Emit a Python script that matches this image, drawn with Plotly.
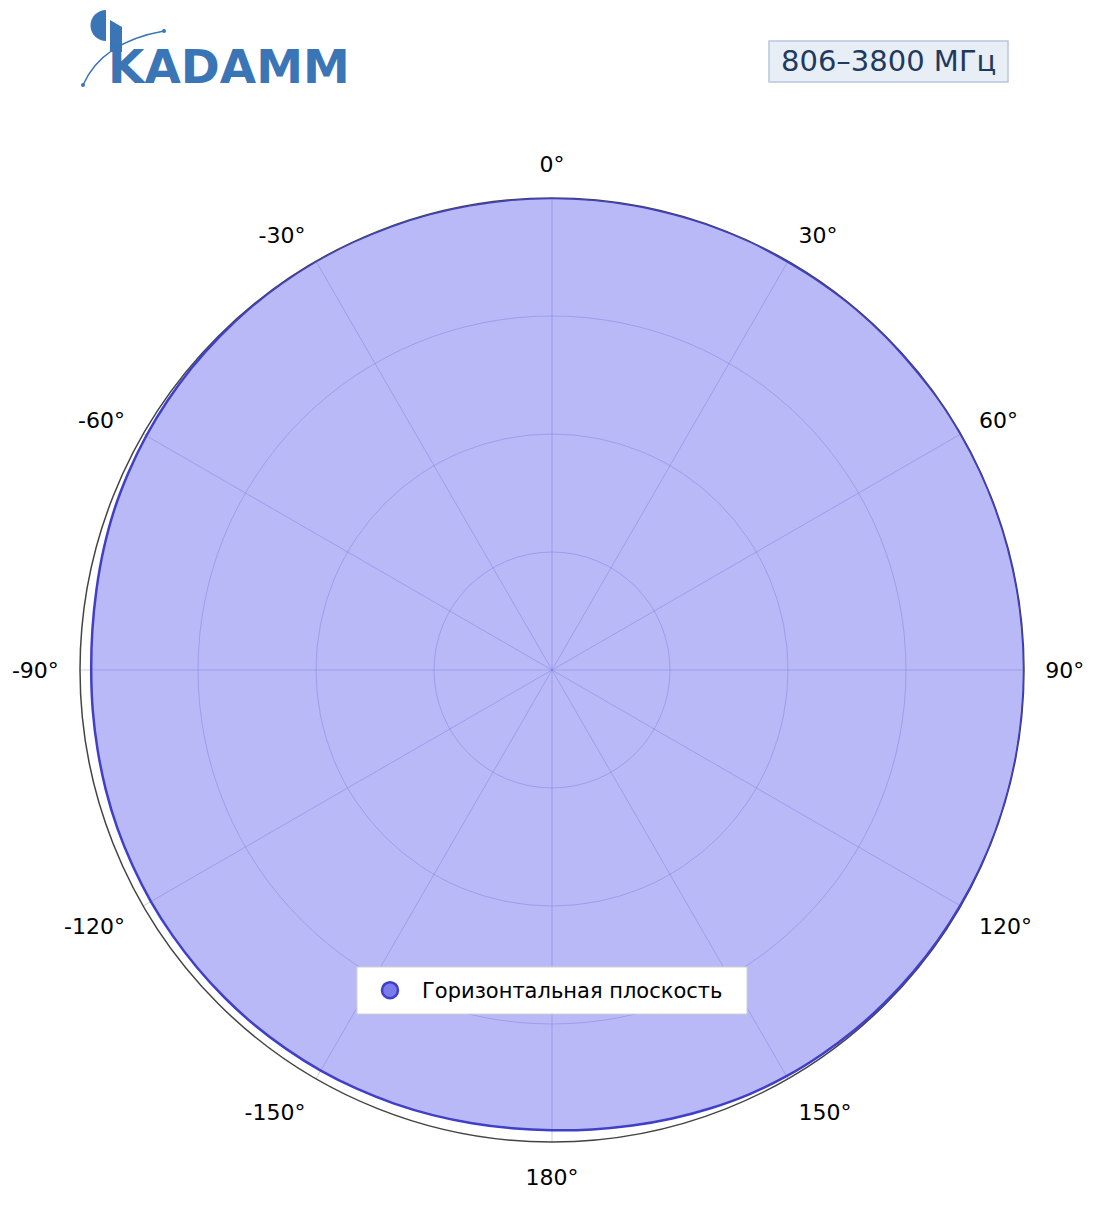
import plotly.graph_objects as go

# Data: horizontal-plane pattern (dB, normalised)
angles_deg = list(range(0, 365, 5))
gain_db = [0.0, 0.0, 0.0, -0.02, 0.0, 0.0, -0.05, -0.03, 0.0, -0.02, -0.05, 0.0,
           0.0, 0.0, 0.0, 0.0, 0.0, 0.0, 0.0, 0.0, 0.0, 0.0, 0.0, -0.02,
           -0.05, -0.07, -0.1, -0.12, -0.15, -0.2, -0.25, -0.35, -0.5, -0.65, -0.8, -0.92,
           -1.0, -1.02, -1.0, -0.95, -0.9, -0.85, -0.8, -0.78, -0.75, -0.75, -0.75, -0.75,
           -0.75, -0.78, -0.8, -0.85, -0.9, -0.93, -0.95, -0.9, -0.8, -0.65, -0.5, -0.4,
           -0.3, -0.22, -0.15, -0.1, -0.05, -0.02, 0.0, 0.0, 0.0, 0.0, 0.0, 0.0, 0.0]
tick_vals = [0, 30, 60, 90, 120, 150, 180, 210, 240, 270, 300, 330]
tick_text = ["0°", "30°", "60°", "90°", "120°", "150°", "180°", "-150°", "-120°", "-90°", "-60°", "-30°"]
radial_range = [-40, 0]
series_name = "Горизонтальная плоскость"
band_label = "806–3800 МГц"
logo_text = "KADAMM"

# page-pixel helpers (plot area: page x 80..1024, y 198..1142)
def px(x):
    return (x - 80) / 944.0

def py(y):
    return (1142 - y) / 944.0

def ox(x):
    return x - 80

def oy(y):
    return 198 - y

fig = go.Figure()
fig.add_trace(go.Scatterpolar(
    r=gain_db, theta=angles_deg, mode="lines", fill="toself",
    fillcolor="rgba(100,100,240,0.45)",
    line=dict(color="#3F3FC8", width=2.5, shape="spline", smoothing=0.8),
    showlegend=False, hoverinfo="skip"))
fig.add_trace(go.Scatterpolar(
    r=[None], theta=[None], mode="markers", name=series_name,
    marker=dict(size=18, color="#7B7BEE", line=dict(color="#3F3FC8", width=2.5))))

blue = "#3A75B5"
shape_common = dict(xref="paper", yref="paper", xsizemode="pixel", ysizemode="pixel",
                    xanchor=0, yanchor=1)

half_disc = "M {a} {b} C {c} {b}, {d} {e}, {d} {f} C {d} {g}, {c} {h}, {a} {h} Z".format(
    a=ox(106), b=oy(10), c=ox(97.4), d=ox(90.5), e=oy(16.9), f=oy(25.5), g=oy(34.1), h=oy(41))
k_stem = "M {} {} L {} {} L {} {} L {} {} Z".format(ox(110), oy(20), ox(122), oy(27),
                                                     ox(122), oy(52), ox(110), oy(52))
arc = "M {} {} Q {} {} {} {}".format(ox(83), oy(85), ox(102), oy(42), ox(164), oy(31))

fig.update_layout(
    width=1104, height=1211,
    margin=dict(l=72, r=88, t=190, b=77),
    paper_bgcolor="white",
    font=dict(family="DejaVu Sans", color="black"),
    polar=dict(
        bgcolor="white",
        domain=dict(x=[0, 1], y=[0, 1]),
        angularaxis=dict(direction="clockwise", rotation=90,
                         tickmode="array", tickvals=tick_vals, ticktext=tick_text,
                         tickfont=dict(size=22, color="black"),
                         showline=True, linecolor="#444444", linewidth=1.5,
                         gridcolor="rgba(130,130,190,0.4)", gridwidth=1,
                         ticks="outside", ticklen=16, tickcolor="rgba(0,0,0,0)",
                         layer="below traces"),
        radialaxis=dict(range=radial_range, dtick=10, showticklabels=False, ticks="",
                        showline=False, gridcolor="rgba(130,130,190,0.4)", gridwidth=1,
                        layer="below traces"),
    ),
    legend=dict(x=px(543), xanchor="center", y=py(990.5), yanchor="middle",
                bgcolor="rgba(0,0,0,0)", borderwidth=0, itemwidth=54,
                font=dict(size=21, color="black"), itemsizing="trace"),
    annotations=[
        dict(text=band_label, xref="paper", yref="paper", x=px(888.5), y=py(61.5),
             xanchor="center", yanchor="middle", showarrow=False,
             font=dict(size=29, color="#1F3A5F", family="DejaVu Sans")),
        dict(text="<b>" + logo_text + "</b>", xref="paper", yref="paper", x=px(106), y=py(67),
             xanchor="left", yanchor="middle", showarrow=False,
             font=dict(size=47, color=blue, family="DejaVu Sans")),
    ],
    shapes=[
        dict(type="rect", xref="paper", yref="paper", x0=px(357), x1=px(747), y0=py(1014), y1=py(967),
             fillcolor="white", line=dict(color="#D0D0D0", width=1), layer="above"),
        dict(type="rect", xref="paper", yref="paper", x0=px(769), x1=px(1008), y0=py(82), y1=py(41),
             fillcolor="#E8EEF6", line=dict(color="#B8C8DC", width=1.5), layer="below"),
        dict(type="path", path=half_disc, fillcolor=blue, line=dict(width=0), **shape_common),
        dict(type="path", path=k_stem, fillcolor=blue, line=dict(width=0), **shape_common),
        dict(type="path", path=arc, line=dict(color=blue, width=1.5), **shape_common),
        dict(type="circle", x0=ox(81), x1=ox(85), y0=oy(83), y1=oy(87),
             fillcolor=blue, line=dict(width=0), **shape_common),
        dict(type="circle", x0=ox(162), x1=ox(166), y0=oy(29), y1=oy(33),
             fillcolor=blue, line=dict(width=0), **shape_common),
    ],
)

fig.write_html("out.html")
